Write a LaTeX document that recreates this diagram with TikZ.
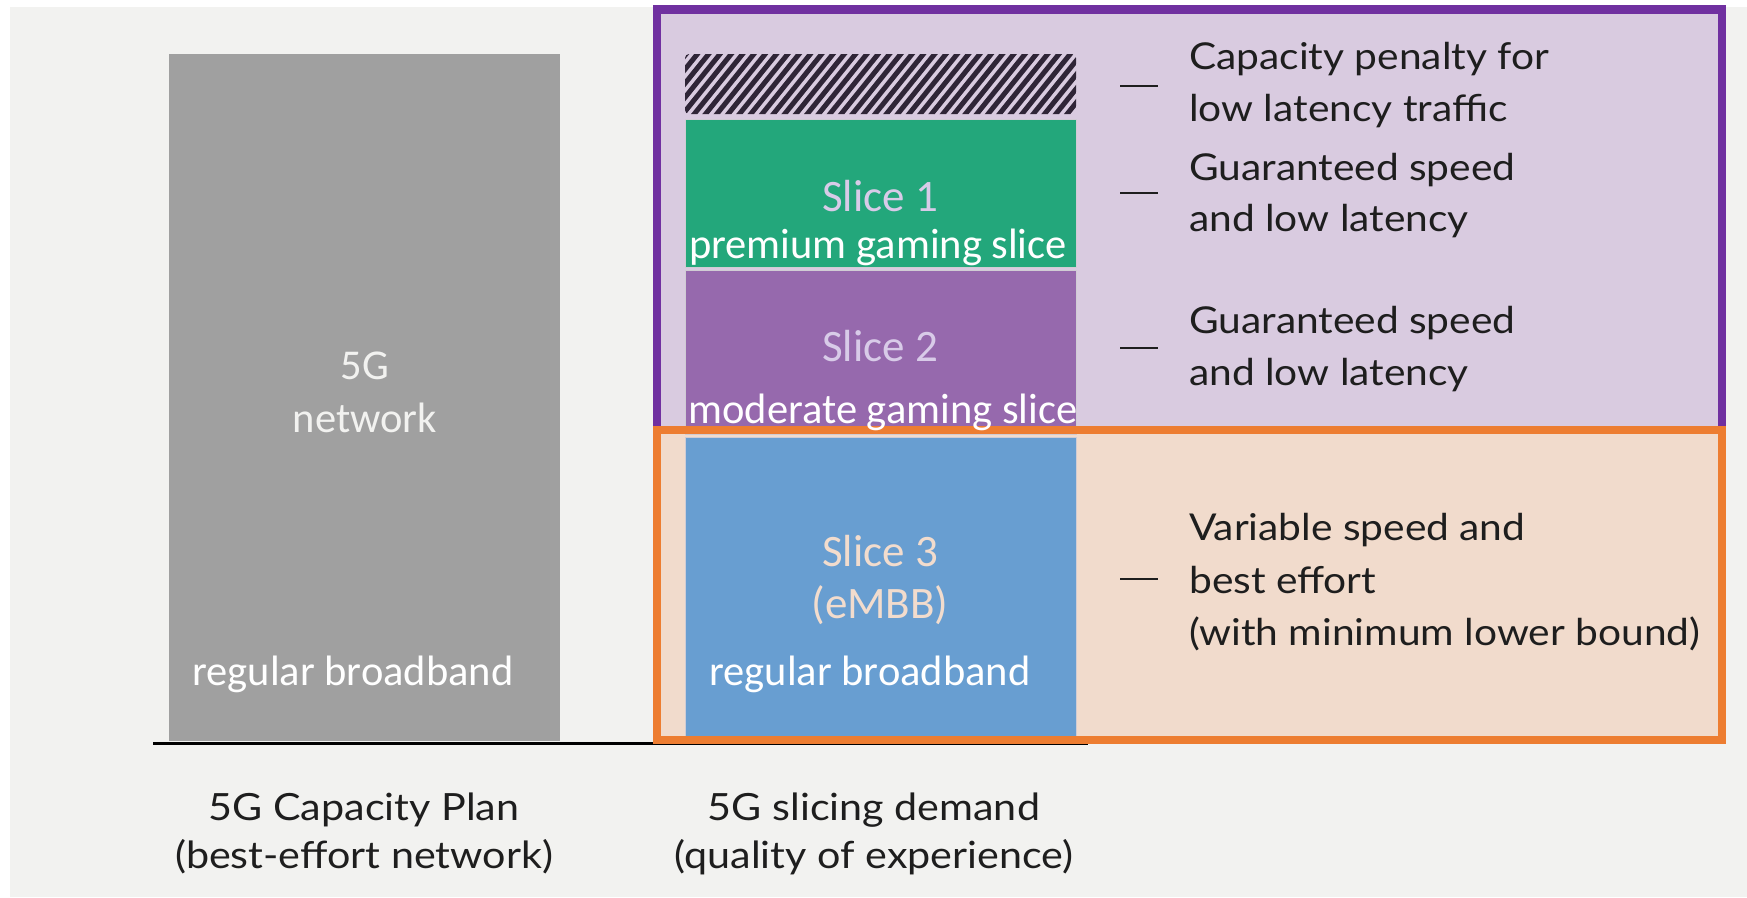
\documentclass[tikz,border=0pt]{standalone}
\usepackage{fontspec}
\setmainfont{Carlito}
\newfontfamily\hilda[FakeStretch=1.1]{Lato}
\definecolor{bggray}{HTML}{F2F2F0}
\definecolor{bargray}{HTML}{A0A0A0}
\definecolor{purpleln}{HTML}{7030A0}
\definecolor{lav}{HTML}{D9CBE0}
\definecolor{orangeln}{HTML}{ED7D31}
\definecolor{peach}{HTML}{F1DBCC}
\definecolor{green1}{HTML}{23A77B}
\definecolor{purple2}{HTML}{9669AD}
\definecolor{blue3}{HTML}{689ED1}
\definecolor{hatchc}{HTML}{2F2537}
\definecolor{txtdark}{HTML}{1E1E1E}
\definecolor{slborder}{HTML}{D0CCD4}
\definecolor{stxtA}{HTML}{D8CBE8}
\definecolor{stxtB}{HTML}{F2DCCD}
\begin{document}
\begin{tikzpicture}[x=1pt,y=-1pt,
  wlbl/.style={font=\fontsize{42.5}{50}\selectfont, text=white, inner sep=0pt, anchor=base},
  slicetxt/.style={font=\fontsize{45}{50}\selectfont, inner sep=0pt, anchor=base},
  desc/.style={font=\hilda\fontsize{37}{52}\selectfont, text=txtdark, inner sep=0pt, anchor=base west},
  captxt/.style={font=\hilda\fontsize{37.5}{48}\selectfont, text=txtdark, inner sep=0pt, anchor=base},
  dashln/.style={line width=2.5pt, draw=txtdark},
  slicebox/.style={draw=slborder, line width=1pt}
]
\useasboundingbox (0,0) rectangle (1747,897);
\fill[white] (0,0) rectangle (1747,897);
\fill[bggray] (10,7) rectangle (1747,897);
% left bar
\fill[bargray] (169,54) rectangle (560,741);
% base line
\draw[line width=3pt] (153,743) -- (1088,743);
% purple panel
\fill[lav] (657,9.5) rectangle (1722,430);
\draw[purpleln, line width=8.5pt] (657,430) -- (657,9.5) -- (1722,9.5) -- (1722,430);
% orange panel fill
\fill[peach] (657,430) rectangle (1722,740);
% hatch
\begin{scope}
\clip[rounded corners=4pt] (685,54) rectangle (1076,114);
\foreach \i in {0,...,42} \draw[hatchc, line width=5pt] ({620+11.3*\i},122) -- ({620+11.3*\i+58},50);
\end{scope}
% slices
\fill[green1, slicebox] (685,119) rectangle (1076,267);
\fill[purple2, slicebox] (685,270) rectangle (1076,434);
\fill[blue3, slicebox] (685,437) rectangle (1076,736);
% orange border
\draw[orangeln, line width=8.5pt] (657,430) rectangle (1722,740);
% left bar texts
\node[wlbl, text=bggray] (n5g) at (365,379) {5G};
\node[wlbl, text=bggray] (nnet) at (365,432) {network};
\node[wlbl] (nrb1) at (353,685) {regular broadband};
% slice texts
\node[slicetxt, text=stxtA] (s1) at (880,211) {Slice 1};
\node[wlbl] (s1b) at (878,258) {premium gaming slice};
\node[slicetxt, text=stxtA] (s2) at (880,361) {Slice 2};
\node[wlbl] (s2b) at (883,423) {moderate gaming slice};
\node[slicetxt, text=stxtB] (s3) at (880,566) {Slice 3};
\node[slicetxt, text=stxtB] (s3b) at (880,618) {(eMBB)};
\node[wlbl] (s3c) at (870,685) {regular broadband};
% right descriptions
\coordinate (d1a) at (1120,86);  \coordinate (d1b) at (1158,86);
\coordinate (d2a) at (1120,193); \coordinate (d2b) at (1158,193);
\coordinate (d3a) at (1120,348); \coordinate (d3b) at (1158,348);
\coordinate (d4a) at (1120,579); \coordinate (d4b) at (1158,579);
\draw[dashln] (d1a) -- (d1b);
\draw[dashln] (d2a) -- (d2b);
\draw[dashln] (d3a) -- (d3b);
\draw[dashln] (d4a) -- (d4b);
\node[desc] (t1a) at (1189,69) {Capacity penalty for};
\node[desc] (t1b) at (1189,121) {low latency traffic};
\node[desc] (t2a) at (1189,180) {Guaranteed speed};
\node[desc] (t2b) at (1189,231) {and low latency};
\node[desc] (t3a) at (1189,333) {Guaranteed speed};
\node[desc] (t3b) at (1189,385) {and low latency};
\node[desc] (t4a) at (1189,540) {Variable speed and};
\node[desc] (t4b) at (1189,593) {best effort};
\node[desc] (t4c) at (1189,645) {(with minimum lower bound)};
% bottom captions
\node[captxt] (c1a) at (364,820) {5G Capacity Plan};
\node[captxt] (c1b) at (364,868) {(best-effort network)};
\node[captxt] (c2a) at (874,820) {5G slicing demand};
\node[captxt] (c2b) at (874,868) {(quality of experience)};
\end{tikzpicture}
\end{document}
